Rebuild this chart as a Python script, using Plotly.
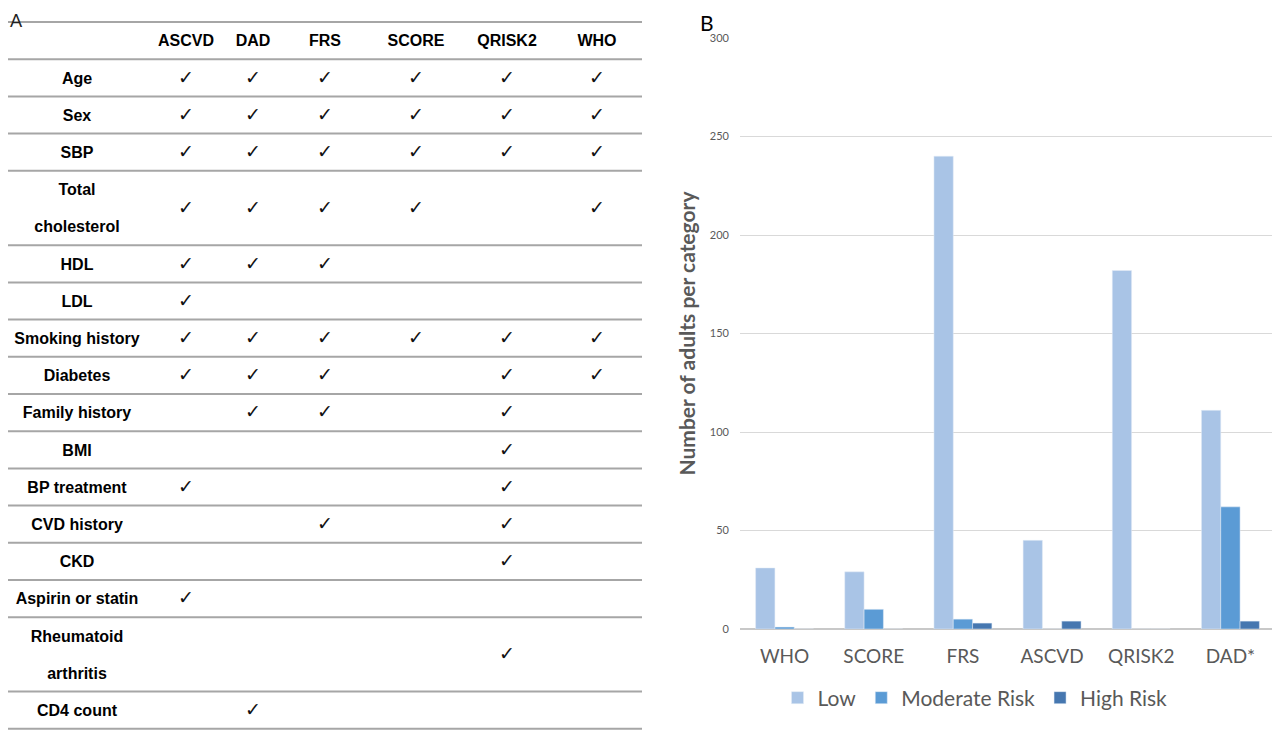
import plotly.graph_objects as go

# ---- panel A: risk-score components ----
models = ["ASCVD", "DAD", "FRS", "SCORE", "QRISK2", "WHO"]
factors = ["Age", "Sex", "SBP", "Total<br>cholesterol", "HDL", "LDL",
           "Smoking history", "Diabetes", "Family history", "BMI",
           "BP treatment", "CVD history", "CKD", "Aspirin or statin",
           "Rheumatoid<br>arthritis", "CD4 count"]
included = [
    [1, 1, 1, 1, 1, 1],
    [1, 1, 1, 1, 1, 1],
    [1, 1, 1, 1, 1, 1],
    [1, 1, 1, 1, 0, 1],
    [1, 1, 1, 0, 0, 0],
    [1, 0, 0, 0, 0, 0],
    [1, 1, 1, 1, 1, 1],
    [1, 1, 1, 0, 1, 1],
    [0, 1, 1, 0, 1, 0],
    [0, 0, 0, 0, 1, 0],
    [1, 0, 0, 0, 1, 0],
    [0, 0, 1, 0, 1, 0],
    [0, 0, 0, 0, 1, 0],
    [1, 0, 0, 0, 0, 0],
    [0, 0, 0, 0, 1, 0],
    [0, 1, 0, 0, 0, 0],
]

# ---- panel B: risk categories ----
scores = ["WHO", "SCORE", "FRS", "ASCVD", "QRISK2", "DAD*"]
low = [31, 29, 240, 45, 182, 111]
moderate = [1, 10, 5, 0, 0, 62]
high = [0, 0, 3, 4, 0, 4]

# page is 1280x736, the figure sits at an 8px body margin
OFF = 8
PW, PH = 1280, 736
W, H = PW - OFF, PH - OFF


def fx(p):
    return (p - OFF) / W


def fy(p):
    return (PH - p) / H


# table geometry (in page pixels)
label_x = 77
col_x = [186, 253, 325, 416, 507, 597]
table_top = 22
unit = 37.2
line_left, line_right = 8, 642

tfont = "Liberation Sans Narrow, Liberation Sans, Arial"

fig = go.Figure()

# row boundaries
bounds = [table_top, table_top + unit]
for f in factors:
    n = f.count("<br>") + 1
    bounds.append(bounds[-1] + unit * n)

# header
fig.add_trace(go.Scatter(
    x=col_x, y=[table_top + unit / 2 + 1] * len(models), text=models,
    mode="text", textfont=dict(family=tfont, size=16, color="black", weight="bold"),
    xaxis="x", yaxis="y", showlegend=False, hoverinfo="skip"))

lx, ly, lt = [], [], []
cx, cy = [], []
for i, f in enumerate(factors):
    parts = f.split("<br>")
    top, bot = bounds[i + 1], bounds[i + 2]
    for k, p in enumerate(parts):
        lx.append(label_x)
        ly.append(top + (k + 0.55) * unit)
        lt.append(p)
    for j, flag in enumerate(included[i]):
        if flag:
            cx.append(col_x[j])
            cy.append((top + bot) / 2 + 1)

fig.add_trace(go.Scatter(
    x=lx, y=ly, text=lt, mode="text",
    textfont=dict(family=tfont, size=16, color="black", weight="bold"),
    xaxis="x", yaxis="y", showlegend=False, hoverinfo="skip"))
fig.add_trace(go.Scatter(
    x=cx, y=cy, text=["✓"] * len(cx), mode="text",
    textfont=dict(family="DejaVu Sans", size=19, color="#111"),
    xaxis="x", yaxis="y", showlegend=False, hoverinfo="skip"))

for b in bounds:
    fig.add_shape(type="line", xref="x", yref="y", x0=line_left, x1=line_right,
                  y0=b, y1=b, line=dict(color="#a6a6a6", width=2))

# bars
bar_colors = ["#a9c4e6", "#5b9bd5", "#4677b0"]
for name, vals, c in zip(["Low", "Moderate Risk", "High Risk"],
                         [low, moderate, high], bar_colors):
    fig.add_trace(go.Bar(x=scores, y=vals, name=name, marker_color=c,
                         xaxis="x2", yaxis="y2"))

fig.update_layout(
    width=W, height=H,
    margin=dict(l=0, r=0, t=0, b=0, pad=0, autoexpand=False),
    paper_bgcolor="white", plot_bgcolor="white",
    barmode="group", bargap=0.35, bargroupgap=0,
    xaxis=dict(domain=[0, fx(660)], range=[OFF, 660], visible=False,
               fixedrange=True, automargin=False),
    yaxis=dict(domain=[0, 1], range=[PH, OFF], visible=False,
               fixedrange=True, automargin=False),
    xaxis2=dict(domain=[fx(740), fx(1275)], anchor="y2", showgrid=False,
                showline=False, ticks="", automargin=False, ticklabelstandoff=14,
                tickfont=dict(family="Lato", size=19, color="#595959")),
    yaxis2=dict(domain=[fy(629), fy(38)], anchor="x2", range=[0, 300],
                dtick=50, showgrid=True, gridcolor="#d9d9d9", automargin=False,
                zeroline=True, zerolinecolor="#c8c8c8", zerolinewidth=1.5,
                ticklabelstandoff=10,
                tickfont=dict(family="Lato", size=11, color="#595959"),
                title=dict(text="<b>Number of adults per category</b>",
                           font=dict(family="Lato", size=21, color="#595959"),
                           standoff=8)),
    legend=dict(orientation="h", x=fx(975), xanchor="center", y=fy(698),
                yanchor="middle", font=dict(family="Lato", size=21, color="#595959"),
                itemwidth=30, traceorder="normal"),
    annotations=[
        dict(text="A", x=fx(8), y=fy(7), xref="paper", yref="paper",
             xanchor="left", yanchor="top", showarrow=False,
             font=dict(family="Lato", size=18, color="#222")),
        dict(text="B", x=fx(707), y=fy(8), xref="paper", yref="paper",
             xanchor="center", yanchor="top", showarrow=False,
             font=dict(family="Lato", size=21, color="black")),
    ],
)

fig.write_html("out.html")
